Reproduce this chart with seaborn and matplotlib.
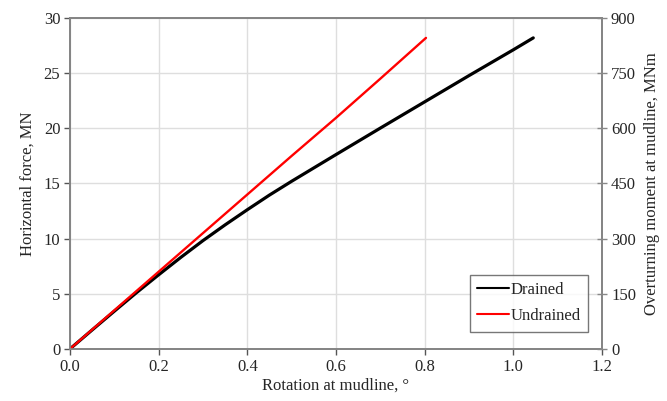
import matplotlib
matplotlib.use("Agg")
import matplotlib.pyplot as plt
import seaborn as sns
import pandas as pd

# Data
drained_rot = [0.0, 0.05, 0.1, 0.15, 0.2, 0.25, 0.3, 0.35, 0.4, 0.45, 0.5, 0.6, 0.7, 0.8, 0.9, 1.0, 1.045]
drained_force = [0.0, 1.72, 3.42, 5.1, 6.72, 8.3, 9.82, 11.25, 12.62, 13.95, 15.2, 17.62, 20.02, 22.4, 24.78, 27.12, 28.2]
undrained_rot = [0.0, 0.1, 0.2, 0.3, 0.4, 0.5, 0.6, 0.7, 0.803]
undrained_force = [0.0, 3.5, 7.0, 10.5, 14.0, 17.5, 20.95, 24.5, 28.2]

x_ticks = [0.0, 0.2, 0.4, 0.6, 0.8, 1.0, 1.2]
y_ticks = [0, 5, 10, 15, 20, 25, 30]
y2_ticks = [0, 150, 300, 450, 600, 750, 900]

sns.set_style("white")
plt.rcParams['font.family'] = ['Liberation Serif', 'DejaVu Serif']

df = pd.concat([
    pd.DataFrame({"rot": drained_rot, "force": drained_force, "case": "Drained"}),
    pd.DataFrame({"rot": undrained_rot, "force": undrained_force, "case": "Undrained"}),
])

fig, ax = plt.subplots(figsize=(6.67, 4.01), dpi=100)
fig.subplots_adjust(left=0.105, right=0.9025, top=0.955, bottom=0.13)

sns.lineplot(data=df, x="rot", y="force", hue="case", sort=False, estimator=None,
             palette={"Drained": "black", "Undrained": "#ff0000"}, ax=ax, zorder=3)
for line, lw in zip(ax.get_lines(), [2.3, 1.7]):
    line.set_linewidth(lw)
    line.set_solid_joinstyle("round")

ax.set_xlim(0, 1.2)
ax.set_ylim(0, 30)
ax.set_xticks(x_ticks)
ax.set_xticklabels([f"{t:.1f}" for t in x_ticks])
ax.set_yticks(y_ticks)
ax.grid(True, color="#dedede", linewidth=1.0)
ax.set_axisbelow(True)
ax.set_xlabel("Rotation at mudline, \u00b0", fontsize=12, labelpad=2)
ax.set_ylabel("Horizontal force, MN", fontsize=12, labelpad=6)
ax.tick_params(axis="both", labelsize=12, direction="out", length=4, width=1,
               color="#555555", left=True, bottom=True, pad=3)
for side in ["left", "bottom", "top", "right"]:
    ax.spines[side].set_color("#666666")
    ax.spines[side].set_linewidth(1.2)

ax2 = ax.twinx()
ax2.set_ylim(0, 900)
ax2.set_yticks(y2_ticks)
ax2.tick_params(axis="y", labelsize=12, direction="inout", length=7, width=1,
                color="#888888", right=True, pad=3)
ax2.set_ylabel("Overturning moment at mudline, MNm", fontsize=12, labelpad=6)
for side in ["left", "bottom", "top", "right"]:
    ax2.spines[side].set_color("#888888")
    ax2.spines[side].set_linewidth(1.2)
ax2.grid(False)

leg = ax.legend(loc="lower right", bbox_to_anchor=(0.99, 0.027), fontsize=12,
                frameon=True, fancybox=False, edgecolor="#555555",
                handlelength=1.9, handletextpad=0.1, borderpad=0.45,
                labelspacing=0.6)
leg.get_frame().set_linewidth(1.0)
leg.set_title(None)

fig.savefig("out.png", dpi=100)
